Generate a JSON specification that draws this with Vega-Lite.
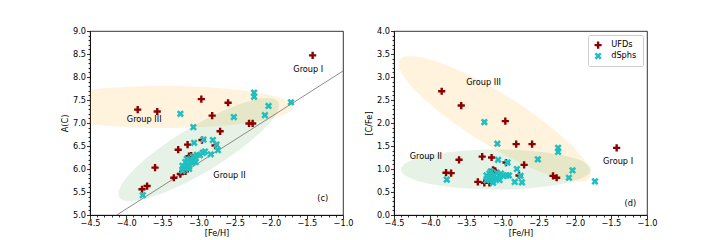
{
  "$schema": "https://vega.github.io/schema/vega-lite/v6.json",
  "padding": {"left": 60, "top": 25, "right": 5, "bottom": 5},
  "background": "white",
  "spacing": 51,
  "bounds": "flush",
  "config": {
    "view": {"stroke": "black", "strokeWidth": 0.8},
    "axis": {"labelFont": "DejaVu Sans", "labelFontSize": 8.2, "labelColor": "black", "titleFont": "DejaVu Sans", "titleFontSize": 8.2, "titleFontWeight": "normal", "titleColor": "black", "tickColor": "black", "tickWidth": 0.8, "domainColor": "black", "domainWidth": 0.8, "grid": false, "labelPadding": 1, "titlePadding": 3, "labelOverlap": false, "labelFlush": false},
    "legend": {"labelFont": "DejaVu Sans", "labelFontSize": 8.2, "labelColor": "black", "padding": 6, "strokeColor": "#cccccc", "fillColor": "white", "cornerRadius": 2, "offset": 4, "rowPadding": 2, "labelOffset": 9, "symbolSize": 50, "symbolStrokeWidth": 0}
  },
  "datasets": {
    "stars": [
      {"group": "UFDs", "feh": -3.84, "cfe": 2.69, "ac": 7.29},
      {"group": "UFDs", "feh": -3.57, "cfe": 2.38, "ac": 7.25},
      {"group": "UFDs", "feh": -2.96, "cfe": 2.04, "ac": 7.52},
      {"group": "UFDs", "feh": -2.81, "cfe": 1.54, "ac": 7.16},
      {"group": "UFDs", "feh": -2.59, "cfe": 1.54, "ac": 7.44},
      {"group": "UFDs", "feh": -1.42, "cfe": 1.46, "ac": 8.47},
      {"group": "UFDs", "feh": -3.60, "cfe": 1.20, "ac": 6.03},
      {"group": "UFDs", "feh": -3.28, "cfe": 1.27, "ac": 6.42},
      {"group": "UFDs", "feh": -3.15, "cfe": 1.25, "ac": 6.53},
      {"group": "UFDs", "feh": -3.78, "cfe": 0.92, "ac": 5.56},
      {"group": "UFDs", "feh": -3.71, "cfe": 0.91, "ac": 5.63},
      {"group": "UFDs", "feh": -3.13, "cfe": 0.98, "ac": 6.28},
      {"group": "UFDs", "feh": -3.10, "cfe": 0.96, "ac": 6.29},
      {"group": "UFDs", "feh": -2.95, "cfe": 1.14, "ac": 6.63},
      {"group": "UFDs", "feh": -2.70, "cfe": 1.09, "ac": 6.82},
      {"group": "UFDs", "feh": -2.77, "cfe": 0.86, "ac": 6.51},
      {"group": "UFDs", "feh": -2.30, "cfe": 0.85, "ac": 6.99},
      {"group": "UFDs", "feh": -2.25, "cfe": 0.81, "ac": 6.99},
      {"group": "UFDs", "feh": -3.34, "cfe": 0.72, "ac": 5.81},
      {"group": "UFDs", "feh": -3.25, "cfe": 0.70, "ac": 5.89},
      {"group": "UFDs", "feh": -3.18, "cfe": 0.70, "ac": 5.95},
      {"group": "dSphs", "feh": -3.25, "cfe": 2.02, "ac": 7.20},
      {"group": "dSphs", "feh": -3.07, "cfe": 1.55, "ac": 6.91},
      {"group": "dSphs", "feh": -2.23, "cfe": 1.46, "ac": 7.66},
      {"group": "dSphs", "feh": -2.23, "cfe": 1.37, "ac": 7.57},
      {"group": "dSphs", "feh": -2.51, "cfe": 1.21, "ac": 7.13},
      {"group": "dSphs", "feh": -2.03, "cfe": 0.97, "ac": 7.37},
      {"group": "dSphs", "feh": -2.08, "cfe": 0.81, "ac": 7.17},
      {"group": "dSphs", "feh": -1.72, "cfe": 0.73, "ac": 7.45},
      {"group": "dSphs", "feh": -3.77, "cfe": 0.77, "ac": 5.43},
      {"group": "dSphs", "feh": -3.06, "cfe": 1.20, "ac": 6.57},
      {"group": "dSphs", "feh": -2.93, "cfe": 1.14, "ac": 6.64},
      {"group": "dSphs", "feh": -2.80, "cfe": 1.00, "ac": 6.63},
      {"group": "dSphs", "feh": -2.75, "cfe": 0.85, "ac": 6.53},
      {"group": "dSphs", "feh": -2.73, "cfe": 0.71, "ac": 6.41},
      {"group": "dSphs", "feh": -2.83, "cfe": 0.72, "ac": 6.32},
      {"group": "dSphs", "feh": -2.94, "cfe": 0.86, "ac": 6.35},
      {"group": "dSphs", "feh": -2.98, "cfe": 0.85, "ac": 6.30},
      {"group": "dSphs", "feh": -3.04, "cfe": 0.76, "ac": 6.15},
      {"group": "dSphs", "feh": -3.22, "cfe": 0.86, "ac": 6.07},
      {"group": "dSphs", "feh": -3.20, "cfe": 0.79, "ac": 6.02},
      {"group": "dSphs", "feh": -3.18, "cfe": 0.90, "ac": 6.15},
      {"group": "dSphs", "feh": -3.15, "cfe": 0.83, "ac": 6.11},
      {"group": "dSphs", "feh": -3.13, "cfe": 0.75, "ac": 6.05},
      {"group": "dSphs", "feh": -3.22, "cfe": 0.75, "ac": 5.96},
      {"group": "dSphs", "feh": -3.11, "cfe": 0.86, "ac": 6.18},
      {"group": "dSphs", "feh": -3.09, "cfe": 0.79, "ac": 6.13},
      {"group": "dSphs", "feh": -3.04, "cfe": 0.85, "ac": 6.24},
      {"group": "dSphs", "feh": -3.02, "cfe": 0.90, "ac": 6.31},
      {"group": "dSphs", "feh": -2.91, "cfe": 0.86, "ac": 6.38},
      {"group": "dSphs", "feh": -3.13, "cfe": 0.70, "ac": 6.00},
      {"group": "dSphs", "feh": -3.16, "cfe": 0.95, "ac": 6.22},
      {"group": "dSphs", "feh": -3.08, "cfe": 0.92, "ac": 6.27}
    ]
  },
  "resolve": {"scale": {"color": "independent", "shape": "independent"}},
  "hconcat": [
    {
      "width": 253,
      "height": 184,
      "encoding": {
        "x": {"field": "feh", "type": "quantitative", "scale": {"domain": [-4.5, -1.0], "nice": false, "zero": false},
          "axis": {"title": "[Fe/H]", "values": [-4.5,-4.4,-4.3,-4.2,-4.1,-4.0,-3.9,-3.8,-3.7,-3.6,-3.5,-3.4,-3.3,-3.2,-3.1,-3.0,-2.9,-2.8,-2.7,-2.6,-2.5,-2.4,-2.3,-2.2,-2.1,-2.0,-1.9,-1.8,-1.7,-1.6,-1.5,-1.4,-1.3,-1.2,-1.1,-1.0],
            "labelExpr": "abs(datum.value*2 - round(datum.value*2)) < 0.001 ? format(datum.value, '.1f') : ''",
            "tickSize": {"condition": {"test": "abs(datum.value*2 - round(datum.value*2)) < 0.001", "value": 3.5}, "value": 2}}},
        "y": {"field": "ac", "type": "quantitative", "scale": {"domain": [5.0, 9.0], "nice": false, "zero": false},
          "axis": {"title": "A(C)", "values": [5.0,5.1,5.2,5.3,5.4,5.5,5.6,5.7,5.8,5.9,6.0,6.1,6.2,6.3,6.4,6.5,6.6,6.7,6.8,6.9,7.0,7.1,7.2,7.3,7.4,7.5,7.6,7.7,7.8,7.9,8.0,8.1,8.2,8.3,8.4,8.5,8.6,8.7,8.8,8.9,9.0],
            "labelExpr": "abs(datum.value*2 - round(datum.value*2)) < 0.001 ? format(datum.value, '.1f') : ''",
            "tickSize": {"condition": {"test": "abs(datum.value*2 - round(datum.value*2)) < 0.001", "value": 3.5}, "value": 2}}}
      },
      "layer": [
        {
          "data": {"values": [{"feh": -3.49, "ac": 7.35}]},
          "mark": {"type": "point", "filled": true, "clip": true, "fill": "#ffa500", "fillOpacity": 0.13, "strokeWidth": 0, "size": 67600, "angle": 0,
            "shape": "M -1 0 C -1 -0.0892 -0.5523 -0.1615 0 -0.1615 C 0.5523 -0.1615 1 -0.0892 1 0 C 1 0.0892 0.5523 0.1615 0 0.1615 C -0.5523 0.1615 -1 0.0892 -1 0 Z"}
        },
        {
          "data": {"values": [{"feh": -2.995, "ac": 6.424}]},
          "mark": {"type": "point", "filled": true, "clip": true, "fill": "#008000", "fillOpacity": 0.1, "strokeWidth": 0, "size": 34300, "angle": -31,
            "shape": "M -1 0 C -1 -0.137 -0.5523 -0.248 0 -0.248 C 0.5523 -0.248 1 -0.137 1 0 C 1 0.137 0.5523 0.248 0 0.248 C -0.5523 0.248 -1 0.137 -1 0 Z"}
        },
        {
          "data": {"values": [{"feh": -4.13, "ac": 5.0}, {"feh": -1.0, "ac": 8.13}]},
          "mark": {"type": "line", "color": "#808080", "strokeWidth": 0.9, "clip": true}
        },
        {
          "data": {"name": "stars"},
          "mark": {"type": "point", "filled": true, "opacity": 1, "size": 52, "strokeWidth": 0},
          "encoding": {
            "color": {"field": "group", "type": "nominal", "scale": {"domain": ["UFDs", "dSphs"], "range": ["#8b0000", "#1fbfbf"]}, "legend": null},
            "shape": {"field": "group", "type": "nominal", "scale": {"domain": ["UFDs", "dSphs"], "range": ["M -0.333 -1 L -0.333 -0.333 L -1 -0.333 L -1 0.333 L -0.333 0.333 L -0.333 1 L 0.333 1 L 0.333 0.333 L 1 0.333 L 1 -0.333 L 0.333 -0.333 L 0.333 -1 Z", "M -0.5 -1 L 0 -0.5 L 0.5 -1 L 1 -0.5 L 0.5 0 L 1 0.5 L 0.5 1 L 0 0.5 L -0.5 1 L -1 0.5 L -0.5 0 L -1 -0.5 Z"]}, "legend": null}
          }
        },
        {
          "data": {"values": [
            {"feh": -1.48, "ac": 8.16, "label": "Group I"},
            {"feh": -3.75, "ac": 7.06, "label": "Group III"},
            {"feh": -2.57, "ac": 5.85, "label": "Group II"},
            {"feh": -1.28, "ac": 5.35, "label": "(c)"}
          ]},
          "mark": {"type": "text", "font": "DejaVu Sans", "fontSize": 8.2, "color": "black", "align": "center", "baseline": "middle"},
          "encoding": {"text": {"field": "label"}}
        }
      ]
    },
    {
      "width": 253,
      "height": 184,
      "encoding": {
        "x": {"field": "feh", "type": "quantitative", "scale": {"domain": [-4.5, -1.0], "nice": false, "zero": false},
          "axis": {"title": "[Fe/H]", "values": [-4.5,-4.4,-4.3,-4.2,-4.1,-4.0,-3.9,-3.8,-3.7,-3.6,-3.5,-3.4,-3.3,-3.2,-3.1,-3.0,-2.9,-2.8,-2.7,-2.6,-2.5,-2.4,-2.3,-2.2,-2.1,-2.0,-1.9,-1.8,-1.7,-1.6,-1.5,-1.4,-1.3,-1.2,-1.1,-1.0],
            "labelExpr": "abs(datum.value*2 - round(datum.value*2)) < 0.001 ? format(datum.value, '.1f') : ''",
            "tickSize": {"condition": {"test": "abs(datum.value*2 - round(datum.value*2)) < 0.001", "value": 3.5}, "value": 2}}},
        "y": {"field": "cfe", "type": "quantitative", "scale": {"domain": [0.0, 4.0], "nice": false, "zero": false},
          "axis": {"title": "[C/Fe]", "values": [0.0,0.1,0.2,0.3,0.4,0.5,0.6,0.7,0.8,0.9,1.0,1.1,1.2,1.3,1.4,1.5,1.6,1.7,1.8,1.9,2.0,2.1,2.2,2.3,2.4,2.5,2.6,2.7,2.8,2.9,3.0,3.1,3.2,3.3,3.4,3.5,3.6,3.7,3.8,3.9,4.0],
            "labelExpr": "abs(datum.value*2 - round(datum.value*2)) < 0.001 ? format(datum.value, '.1f') : ''",
            "tickSize": {"condition": {"test": "abs(datum.value*2 - round(datum.value*2)) < 0.001", "value": 3.5}, "value": 2}}}
      },
      "layer": [
        {
          "data": {"values": [{"feh": -3.109, "cfe": 2.087}]},
          "mark": {"type": "point", "filled": true, "clip": true, "fill": "#ffa500", "fillOpacity": 0.13, "strokeWidth": 0, "size": 50000, "angle": 31.8,
            "shape": "M -1 0 C -1 -0.1285 -0.5523 -0.2326 0 -0.2326 C 0.5523 -0.2326 1 -0.1285 1 0 C 1 0.1285 0.5523 0.2326 0 0.2326 C -0.5523 0.2326 -1 0.1285 -1 0 Z"}
        },
        {
          "data": {"values": [{"feh": -3.09, "cfe": 0.99}]},
          "mark": {"type": "point", "filled": true, "clip": true, "fill": "#008000", "fillOpacity": 0.1, "strokeWidth": 0, "size": 36100, "angle": 0,
            "shape": "M -1 0 C -1 -0.1163 -0.5523 -0.2105 0 -0.2105 C 0.5523 -0.2105 1 -0.1163 1 0 C 1 0.1163 0.5523 0.2105 0 0.2105 C -0.5523 0.2105 -1 0.1163 -1 0 Z"}
        },
        {
          "mark": {"type": "rule", "color": "#808080", "strokeWidth": 0.9},
          "encoding": {"y": {"datum": 0.7}}
        },
        {
          "data": {"name": "stars"},
          "mark": {"type": "point", "filled": true, "opacity": 1, "size": 52, "strokeWidth": 0},
          "encoding": {
            "color": {"field": "group", "type": "nominal", "scale": {"domain": ["UFDs", "dSphs"], "range": ["#8b0000", "#1fbfbf"]}, "legend": {"title": null, "orient": "top-right"}},
            "shape": {"field": "group", "type": "nominal", "scale": {"domain": ["UFDs", "dSphs"], "range": ["M -0.333 -1 L -0.333 -0.333 L -1 -0.333 L -1 0.333 L -0.333 0.333 L -0.333 1 L 0.333 1 L 0.333 0.333 L 1 0.333 L 1 -0.333 L 0.333 -0.333 L 0.333 -1 Z", "M -0.5 -1 L 0 -0.5 L 0.5 -1 L 1 -0.5 L 0.5 0 L 1 0.5 L 0.5 1 L 0 0.5 L -0.5 1 L -1 0.5 L -0.5 0 L -1 -0.5 Z"]}, "legend": {"title": null, "orient": "top-right"}}
          }
        },
        {
          "data": {"values": [
            {"feh": -3.26, "cfe": 2.87, "label": "Group III"},
            {"feh": -4.06, "cfe": 1.26, "label": "Group II"},
            {"feh": -1.40, "cfe": 1.15, "label": "Group I"},
            {"feh": -1.23, "cfe": 0.25, "label": "(d)"}
          ]},
          "mark": {"type": "text", "font": "DejaVu Sans", "fontSize": 8.2, "color": "black", "align": "center", "baseline": "middle"},
          "encoding": {"text": {"field": "label"}}
        }
      ]
    }
  ]
}
